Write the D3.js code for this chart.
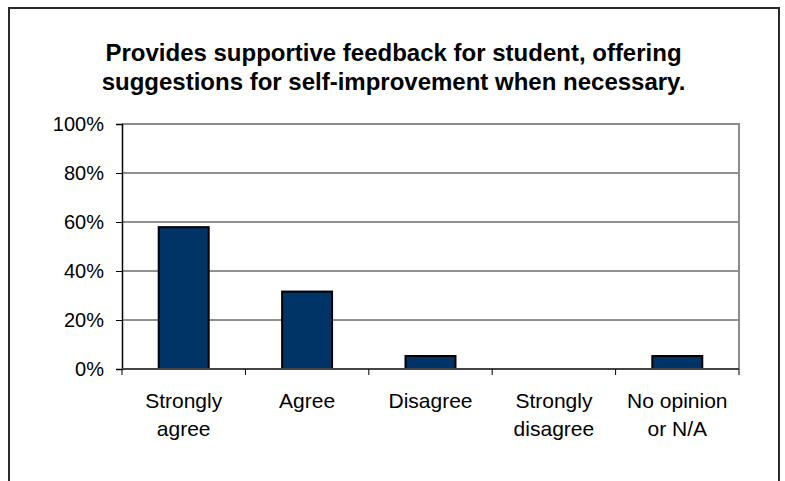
<!doctype html>
<html>
<head>
<meta charset="utf-8"/>
<title>Supportive feedback</title>
<script src="https://d3js.org/d3.v7.min.js"></script>
<style>
  body { margin: 0; background: #fff; }
  text { font-family: Arial, "Liberation Sans", sans-serif; fill: #000; }
</style>
</head>
<body>
<div id="chart"></div>
<script>
// data
var categories = ["Strongly agree", "Agree", "Disagree", "Strongly disagree", "No opinion or N/A"];
var catLines = [["Strongly", "agree"], ["Agree"], ["Disagree"], ["Strongly", "disagree"], ["No opinion", "or N/A"]];
var values = [57.9, 31.6, 5.3, 0, 5.3];
var yTicks = [0, 20, 40, 60, 80, 100];
var titleLines = ["Provides supportive feedback for student, offering",
                  "suggestions for self-improvement when necessary."];

var W = 785, H = 481;
var pLeft = 122, pRight = 739, pTop = 124, pBottom = 369;

var svg = d3.select("#chart").append("svg")
    .attr("width", W).attr("height", H);

// outer frame (bottom edge runs off the picture)
svg.append("rect")
    .attr("x", 9).attr("y", 8).attr("width", 770).attr("height", 490)
    .attr("fill", "none").attr("stroke", "#2b2b2b").attr("stroke-width", 2);

// title
svg.selectAll(".title").data(titleLines).enter().append("text")
    .attr("class", "title")
    .attr("x", W / 2 + 1)
    .attr("y", function(d, i) { return 61 + i * 29; })
    .attr("text-anchor", "middle")
    .attr("font-size", 24)
    .attr("font-weight", "bold")
    .text(function(d) { return d; });

var x = d3.scaleBand().domain(categories).range([pLeft, pRight]).paddingInner(0.595).paddingOuter(0.2975);
var y = d3.scaleLinear().domain([0, 100]).range([pBottom, pTop]);

// gridlines
svg.append("g").selectAll("line").data(yTicks.filter(function(d) { return d > 0 && d < 100; }))
  .enter().append("line")
    .attr("x1", pLeft).attr("x2", pRight)
    .attr("y1", function(d) { return y(d); }).attr("y2", function(d) { return y(d); })
    .attr("stroke", "#222").attr("stroke-width", 1);

// plot border top + right in gray
svg.append("path")
    .attr("d", "M" + pLeft + "," + pTop + "H" + pRight + "V" + pBottom)
    .attr("fill", "none").attr("stroke", "#8c8c8c").attr("stroke-width", 2);

// bars
svg.append("g").selectAll("rect").data(values).enter().append("rect")
    .attr("x", function(d, i) { return x(categories[i]); })
    .attr("y", function(d) { return y(d); })
    .attr("width", x.bandwidth())
    .attr("height", function(d) { return pBottom - y(d); })
    .attr("fill", "#003366")
    .attr("stroke", "#000").attr("stroke-width", 2)
    .style("display", function(d) { return d > 0 ? null : "none"; });

// y axis
var yAxis = svg.append("g")
    .attr("transform", "translate(" + pLeft + ",0)")
    .call(d3.axisLeft(y).tickValues(yTicks).tickSize(6).tickPadding(12)
          .tickFormat(function(d) { return d + "%"; }));
yAxis.select(".domain").attr("stroke", "#000").attr("stroke-width", 1.5);
yAxis.selectAll(".tick line").attr("stroke", "#000");
yAxis.selectAll("text").attr("font-size", 20).attr("font-family", "Arial, 'Liberation Sans', sans-serif");

// x axis line and tick marks between categories
svg.append("line")
    .attr("x1", pLeft).attr("x2", pRight).attr("y1", pBottom).attr("y2", pBottom)
    .attr("stroke", "#444").attr("stroke-width", 2);
var step = x.step();
svg.append("g").selectAll("line").data(d3.range(categories.length + 1)).enter().append("line")
    .attr("x1", function(i) { return pLeft + i * step; })
    .attr("x2", function(i) { return pLeft + i * step; })
    .attr("y1", pBottom).attr("y2", pBottom + 6)
    .attr("stroke", "#000");

// category labels
var lab = svg.append("g").selectAll("text").data(categories).enter().append("text")
    .attr("text-anchor", "middle")
    .attr("font-size", 21)
    .attr("x", function(d) { return x(d) + x.bandwidth() / 2; })
    .attr("y", 408);
lab.each(function(d, i) {
  var t = d3.select(this);
  catLines[i].forEach(function(s, k) {
    t.append("tspan").attr("x", x(d) + x.bandwidth() / 2).attr("y", 408 + k * 28).text(s);
  });
});
</script>
</body>
</html>
